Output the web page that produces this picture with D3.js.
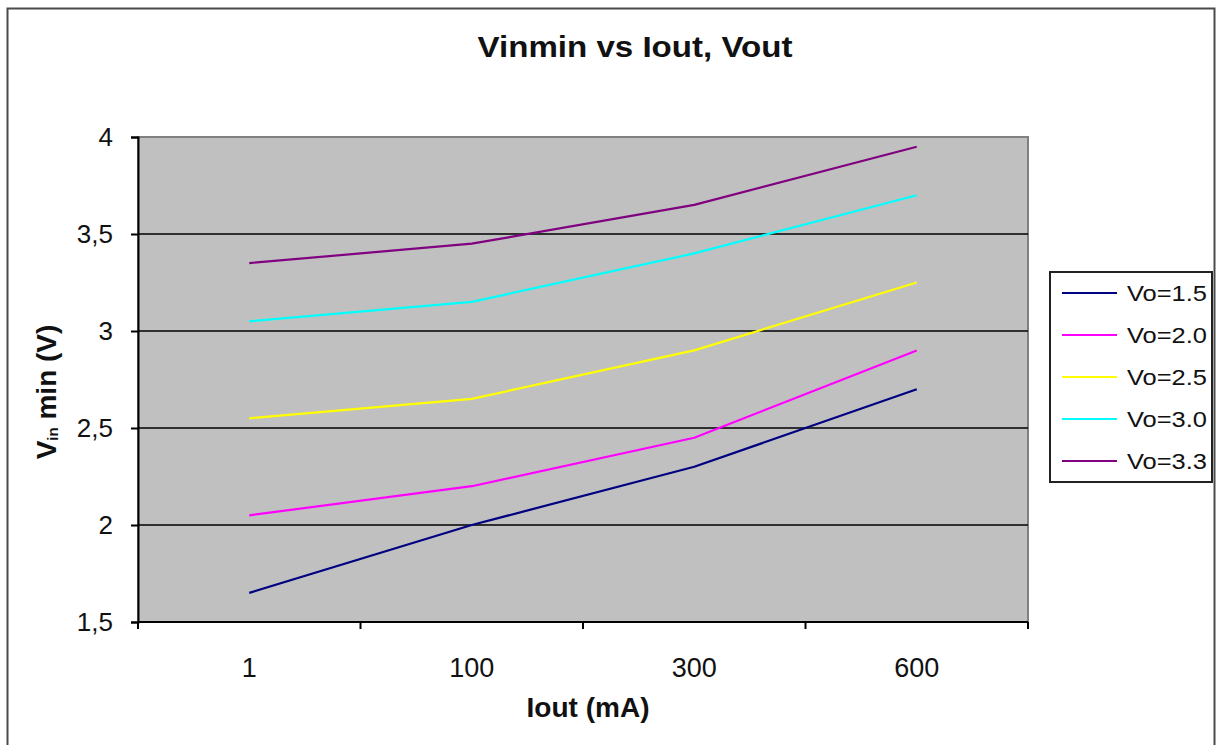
<!DOCTYPE html>
<html>
<head>
<meta charset="utf-8">
<script src="https://cdn.jsdelivr.net/npm/d3@7"></script>
<style>
  html, body { margin: 0; padding: 0; background: #fff; }
  svg { display: block; font-family: "Liberation Sans", Arial, sans-serif; }
</style>
</head>
<body>
<svg id="chart" width="1218" height="745"></svg>
<script>
// ---- data ----
const categories = ["1", "100", "300", "600"];
const seriesNames = ["Vo=1.5", "Vo=2.0", "Vo=2.5", "Vo=3.0", "Vo=3.3"];
const vo15 = [1.65, 2.0, 2.3, 2.7];
const vo20 = [2.05, 2.2, 2.45, 2.9];
const vo25 = [2.55, 2.65, 2.9, 3.25];
const vo30 = [3.05, 3.15, 3.4, 3.7];
const vo33 = [3.35, 3.45, 3.65, 3.95];
const seriesColors = ["#000080", "#FF00FF", "#FFFF00", "#00FFFF", "#800080"];
const yTickValues = [1.5, 2, 2.5, 3, 3.5, 4];
const yTickLabels = ["1,5", "2", "2,5", "3", "3,5", "4"];
const gridValues = [2, 2.5, 3, 3.5];

const seriesValues = [vo15, vo20, vo25, vo30, vo33];

// ---- layout ----
const svg = d3.select("#chart");
const plot = { left: 138, right: 1028, top: 137, bottom: 622 };
const font = '"Liberation Sans", Arial, sans-serif';

const x = d3.scaleBand().domain(categories).range([plot.left, plot.right]).padding(0);
const y = d3.scaleLinear().domain([1.5, 4]).range([plot.bottom, plot.top]);

// outer chart border
svg.append("rect")
  .attr("x", 7.5).attr("y", 8.5)
  .attr("width", 1207).attr("height", 760)
  .attr("fill", "#fff").attr("stroke", "#4a4a4a").attr("stroke-width", 2);

// plot area
svg.append("rect")
  .attr("x", plot.left).attr("y", plot.top)
  .attr("width", plot.right - plot.left).attr("height", plot.bottom - plot.top)
  .attr("fill", "#C0C0C0").attr("stroke", "#808080").attr("stroke-width", 2);

// gridlines
svg.append("g").selectAll("line").data(gridValues).join("line")
  .attr("x1", plot.left).attr("x2", plot.right)
  .attr("y1", d => y(d)).attr("y2", d => y(d))
  .attr("stroke", "#000").attr("stroke-width", 1.5);

// y axis
const yAxis = d3.axisLeft(y)
  .tickValues(yTickValues)
  .tickFormat((d, i) => yTickLabels[i])
  .tickSize(7).tickPadding(18);
const gy = svg.append("g").attr("transform", `translate(${plot.left},0)`).call(yAxis);
gy.select(".domain").attr("stroke", "#000").attr("stroke-width", 2);
gy.selectAll(".tick line").attr("stroke", "#000").attr("stroke-width", 2);
gy.selectAll(".tick text").attr("font-size", 26).attr("font-family", font).attr("fill", "#111").attr("dy", "0.34em");

// x axis (category labels centered, ticks at boundaries)
const gx = svg.append("g").attr("transform", `translate(0,${plot.bottom})`);
gx.append("line").attr("x1", plot.left).attr("x2", plot.right).attr("y1", 0).attr("y2", 0)
  .attr("stroke", "#000").attr("stroke-width", 2);
const boundaries = categories.map(c => x(c)).concat([x(categories[categories.length - 1]) + x.bandwidth()]);
gx.selectAll("line.tk").data(boundaries).join("line").attr("class", "tk")
  .attr("x1", d => d).attr("x2", d => d).attr("y1", 0).attr("y2", 7)
  .attr("stroke", "#000").attr("stroke-width", 2);
gx.selectAll("text").data(categories).join("text")
  .attr("x", d => x(d) + x.bandwidth() / 2).attr("y", 55)
  .attr("text-anchor", "middle").attr("font-size", 27).attr("font-family", font).attr("fill", "#111")
  .text(d => d);

// series lines
const line = d3.line()
  .x((d, i) => x(categories[i]) + x.bandwidth() / 2)
  .y(d => y(d));
svg.append("g").selectAll("path").data(seriesValues).join("path")
  .attr("d", d => line(d))
  .attr("fill", "none")
  .attr("stroke", (d, i) => seriesColors[i])
  .attr("stroke-width", 2.2)
  .attr("stroke-linejoin", "round");

// title
svg.append("text")
  .attr("x", 635).attr("y", 57)
  .attr("text-anchor", "middle").attr("font-size", 29).attr("font-weight", "bold")
  .attr("font-family", font).attr("fill", "#111")
  .attr("textLength", 315).attr("lengthAdjust", "spacingAndGlyphs")
  .text("Vinmin vs Iout, Vout");

// x axis title
svg.append("text")
  .attr("x", 588).attr("y", 717)
  .attr("text-anchor", "middle").attr("font-size", 28).attr("font-weight", "bold")
  .attr("font-family", font).attr("fill", "#111")
  .attr("textLength", 123).attr("lengthAdjust", "spacingAndGlyphs")
  .text("Iout (mA)");

// y axis title
const yt = svg.append("text")
  .attr("transform", "translate(56,392) rotate(-90)")
  .attr("text-anchor", "middle").attr("font-size", 28).attr("font-weight", "bold")
  .attr("font-family", font).attr("fill", "#111");
yt.append("tspan").text("V");
yt.append("tspan").attr("font-size", 15).attr("dy", 2).text("in");
yt.append("tspan").attr("dy", -2).text(" min (V)");

// legend
const lg = { x: 1050, y: 272, w: 162, h: 210 };
svg.append("defs").append("clipPath").attr("id", "lgclip")
  .append("rect").attr("x", lg.x).attr("y", lg.y).attr("width", lg.w).attr("height", lg.h);
svg.append("rect")
  .attr("x", lg.x).attr("y", lg.y).attr("width", lg.w).attr("height", lg.h)
  .attr("fill", "#fff");
const items = svg.append("g").attr("clip-path", "url(#lgclip)")
  .selectAll("g").data(seriesNames).join("g")
  .attr("transform", (d, i) => `translate(0,${293 + i * 42})`);
items.append("line")
  .attr("x1", 1062).attr("x2", 1117).attr("y1", 0).attr("y2", 0)
  .attr("stroke", (d, i) => seriesColors[i]).attr("stroke-width", 2.2);
items.append("text")
  .attr("x", 1127).attr("y", 8)
  .attr("font-size", 22).attr("font-family", font).attr("fill", "#111")
  .attr("textLength", 80).attr("lengthAdjust", "spacingAndGlyphs")
  .text(d => d);
svg.append("rect")
  .attr("x", lg.x).attr("y", lg.y).attr("width", lg.w).attr("height", lg.h)
  .attr("fill", "none").attr("stroke", "#222").attr("stroke-width", 2);
</script>
</body>
</html>
